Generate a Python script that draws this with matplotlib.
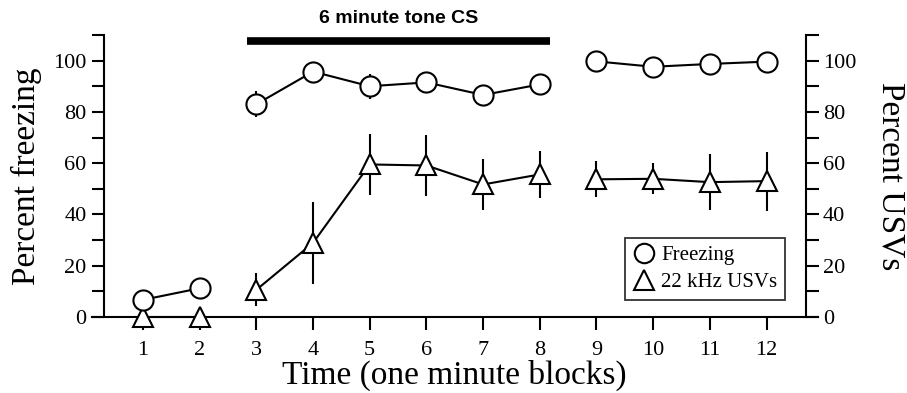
import numpy as np
import matplotlib
matplotlib.use('Agg')
import matplotlib.pyplot as plt
from matplotlib.ticker import MultipleLocator

# dane
blocks = np.arange(1, 13)
freezing = np.array([6.7, 11.2, 83.0, 95.7, 90.0, 91.5, 86.6, 90.7, 99.7, 97.6, 98.7, 99.6])
freezing_err = np.array([2.0, 3.5, 5.0, 2.0, 4.8, 4.0, 2.0, 2.0, 1.5, 1.5, 1.5, 1.5])
usv = np.array([0.0, 0.0, 10.6, 28.9, 59.5, 59.1, 51.7, 55.6, 53.7, 53.9, 52.6, 53.0])
usv_err = np.array([0.0, 0.0, 6.5, 16.0, 12.0, 12.0, 10.0, 9.0, 7.0, 6.0, 11.0, 11.5])
segments = [(0, 2), (2, 8), (8, 12)]  # przerwy w liniach

tone_start, tone_end, tone_y = 2.83, 8.18, 107.5
tone_label = '6 minute tone CS'

plt.rcParams['font.family'] = ['Liberation Serif', 'DejaVu Serif']

fig = plt.figure(figsize=(9.07, 3.93), dpi=100)
ax = fig.add_axes([0.1014, 0.1934, 0.800, 0.7176])

for a, b in segments:
    ax.errorbar(blocks[a:b], usv[a:b], yerr=usv_err[a:b], fmt='none', ecolor='k', elinewidth=1.5, zorder=2)
    ax.errorbar(blocks[a:b], freezing[a:b], yerr=freezing_err[a:b], fmt='none', ecolor='k', elinewidth=1.5, zorder=2)
    ax.plot(blocks[a:b], usv[a:b], color='k', lw=1.5, marker='^', ms=15, mfc='white', mec='k', mew=1.5,
            clip_on=False, zorder=3)
    ax.plot(blocks[a:b], freezing[a:b], color='k', lw=1.5, marker='o', ms=14.5, mfc='white', mec='k', mew=1.5,
            clip_on=False, zorder=3)

# pasek bodzca
ax.plot([tone_start, tone_end], [tone_y, tone_y], color='k', lw=5.5, solid_capstyle='butt', clip_on=False)
ax.text((tone_start + tone_end) / 2, 116.3, tone_label, ha='center', va='center', fontsize=14,
        fontweight='bold', family=['Liberation Sans', 'DejaVu Sans'])

ax.set_xlim(0.1, 12.9)
ax.set_ylim(0, 110)
ax.set_xticks(blocks)
ax.set_yticks(np.arange(0, 101, 20))
ax.yaxis.set_minor_locator(MultipleLocator(10))

ax.spines['top'].set_visible(False)
ax.spines['right'].set_visible(False)
ax.spines['left'].set_position(('data', 0.31))
for s in ['left', 'bottom']:
    ax.spines[s].set_linewidth(1.5)
ax.tick_params(axis='both', which='major', labelsize=16, width=1.5, length=9, direction='out')
ax.tick_params(axis='y', which='minor', width=1.5, length=9, direction='out')
ax.tick_params(axis='x', pad=8)

ax.set_ylabel('Percent freezing', fontsize=24, labelpad=8)
ax.set_xlabel('Time (one minute blocks)', fontsize=24, labelpad=0)

ax2 = ax.twinx()
ax2.set_ylim(0, 110)
ax2.set_yticks(np.arange(0, 101, 20))
ax2.yaxis.set_minor_locator(MultipleLocator(10))
for s in ['top', 'left', 'bottom']:
    ax2.spines[s].set_visible(False)
ax2.spines['right'].set_position(('data', 12.69))
ax2.spines['right'].set_linewidth(1.5)
ax2.tick_params(axis='y', which='major', labelsize=16, width=1.5, length=9, direction='out')
ax2.tick_params(axis='y', which='minor', width=1.5, length=9, direction='out')
ax2.set_ylabel('Percent USVs', fontsize=24, rotation=-90, labelpad=36)

h1 = plt.Line2D([], [], ls='none', marker='o', ms=14, mfc='white', mec='k', mew=1.5)
h2 = plt.Line2D([], [], ls='none', marker='^', ms=15, mfc='white', mec='k', mew=1.5)
leg = ax.legend([h1, h2], ['Freezing', '22 kHz USVs'], loc='lower right', bbox_to_anchor=(0.969, 0.025),
                fontsize=15, frameon=True, fancybox=False, edgecolor='k', handletextpad=0.3,
                borderpad=0.35, labelspacing=0.35, handlelength=1.1)
leg.get_frame().set_linewidth(1.3)

fig.savefig('out.png', dpi=100)
